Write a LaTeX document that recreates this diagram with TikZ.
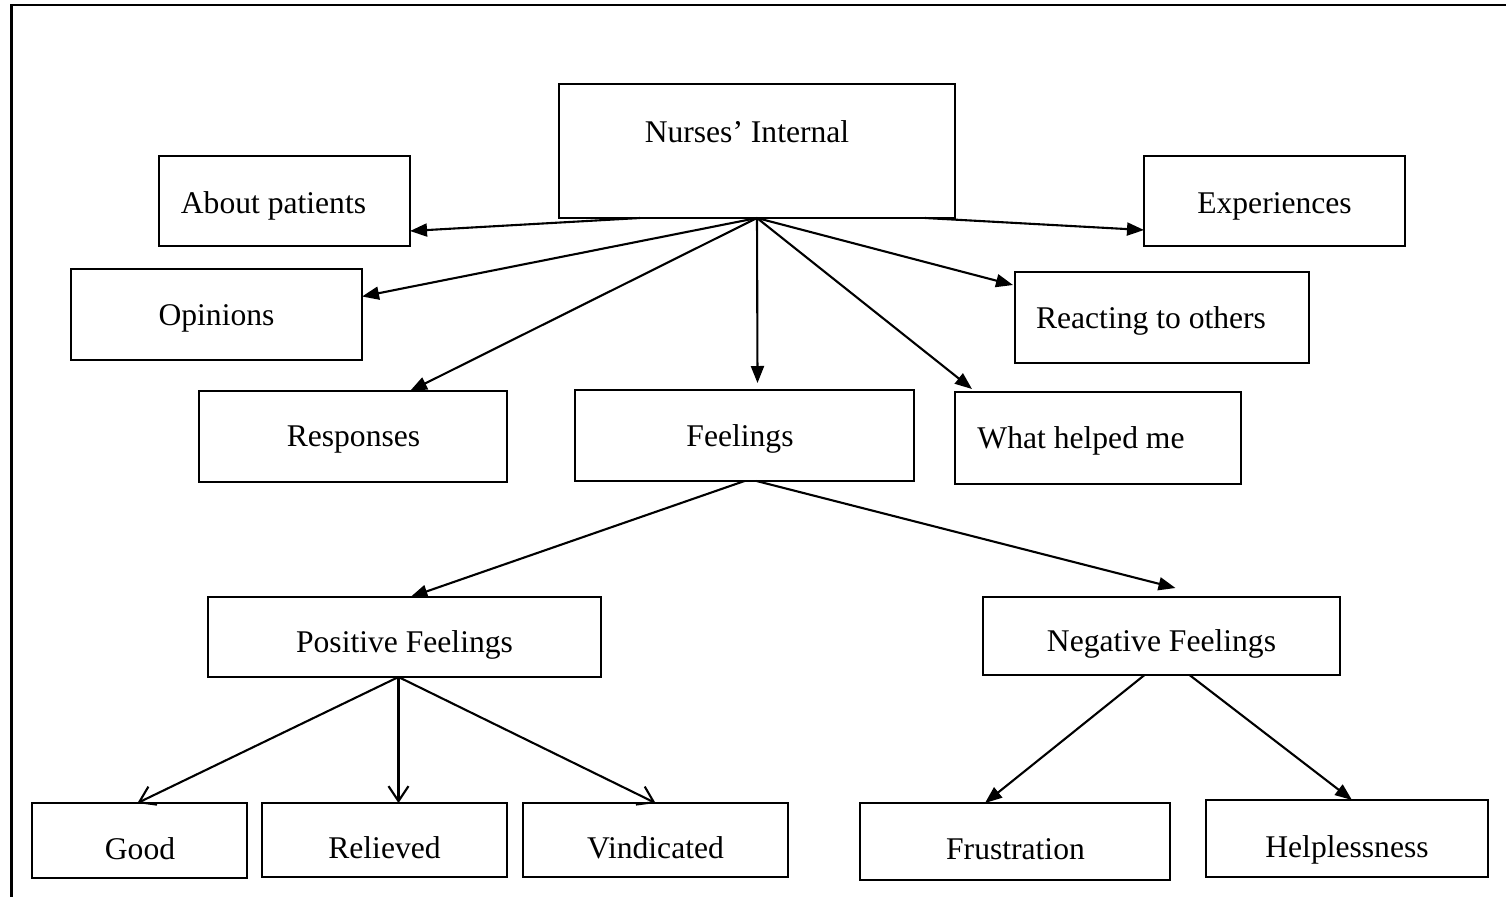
\documentclass[tikz,border=0pt]{standalone}
\usepackage{fontspec}
\setmainfont{Liberation Serif}
\usetikzlibrary{arrows.meta}
\begin{document}
\begin{tikzpicture}[x=1pt,y=-1pt,line width=2.1pt,
  box/.style={draw,line width=2.1pt,rectangle,inner sep=0pt,outer sep=0pt},
  lbl/.style={anchor=base,inner sep=0pt,font=\fontsize{31.6}{36}\selectfont},
  arr/.style={-{Triangle[length=17pt,width=13pt]}},
  openarr/.style={-{Straight Barb[length=15pt,width=20pt]}}]
\useasboundingbox (0,0) rectangle (1506,897);
% frame
\draw[line width=2.2pt] (1506,5) -- (11.5,5) -- (11.5,897);
% boxes
\node[box,minimum width=396pt,minimum height=134pt] (ni) at (757,151) {};
\node[box,minimum width=251pt,minimum height=90pt] (ap) at (284.5,201) {};
\node[box,minimum width=261pt,minimum height=90pt] (ex) at (1274.5,201) {};
\node[box,minimum width=291pt,minimum height=91pt] (op) at (216.5,314.5) {};
\node[box,minimum width=294pt,minimum height=91pt] (ro) at (1162,317.5) {};
\node[box,minimum width=308pt,minimum height=91pt] (rs) at (353,436.5) {};
\node[box,minimum width=339pt,minimum height=91pt] (fe) at (744.5,435.5) {};
\node[box,minimum width=286pt,minimum height=92pt] (wh) at (1098,438) {};
\node[box,minimum width=393pt,minimum height=80pt] (pf) at (404.5,637) {};
\node[box,minimum width=357pt,minimum height=78pt] (nf) at (1161.5,636) {};
\node[box,minimum width=215pt,minimum height=75pt] (go) at (139.5,840.5) {};
\node[box,minimum width=245pt,minimum height=74pt] (re) at (384.5,840) {};
\node[box,minimum width=265pt,minimum height=74pt] (vi) at (655.5,840) {};
\node[box,minimum width=310pt,minimum height=77pt] (fr) at (1015,841.5) {};
\node[box,minimum width=282pt,minimum height=77pt] (he) at (1347,838.5) {};
% labels
\node[lbl] (t-ni) at (747,142) {Nurses’ Internal};
\node[lbl] (t-ap) at (273.5,213) {About patients};
\node[lbl] (t-ex) at (1274.5,213) {Experiences};
\node[lbl] (t-op) at (216.5,325) {Opinions};
\node[lbl] (t-ro) at (1151,328) {Reacting to others};
\node[lbl] (t-rs) at (353.5,446) {Responses};
\node[lbl] (t-fe) at (740,446) {Feelings};
\node[lbl] (t-wh) at (1081,448) {What helped me};
\node[lbl] (t-pf) at (404.5,652) {Positive Feelings};
\node[lbl] (t-nf) at (1161.5,651) {Negative Feelings};
\node[lbl] (t-go) at (140,859) {Good};
\node[lbl] (t-re) at (384.5,858) {Relieved};
\node[lbl] (t-vi) at (655.5,858) {Vindicated};
\node[lbl] (t-fr) at (1015.5,859) {Frustration};
\node[lbl] (t-he) at (1347,857) {Helplessness};
% connectors from Nurses' Internal
\draw[arr] ([xshift=-117pt]ni.south) -- ([yshift=-30pt]ap.east);
\draw[arr] (ni.south) -- ([yshift=18pt]op.east);
\draw[arr] (ni.south) -- ([xshift=57pt]rs.north);
\draw[arr] (ni.south) -- ([xshift=13pt,yshift=7pt]fe.north);
\draw[arr] (ni.south) -- ([xshift=17pt,yshift=3pt]wh.north west);
\draw[arr] (ni.south) -- ([xshift=-2pt,yshift=-13pt]ro.north west);
\draw[arr] ([xshift=168pt]ni.south) -- ([yshift=-29pt]ex.west);
% from Feelings
\draw[arr] (fe.south) -- ([xshift=6pt]pf.north);
\draw[arr] ([xshift=12pt]fe.south) -- ([xshift=14pt,yshift=9pt]nf.north);
% from Positive Feelings
\draw[openarr] ([xshift=-6pt]pf.south) -- ([xshift=-2pt]go.north);
\draw[openarr] ([xshift=-6pt]pf.south) -- ([xshift=14pt]re.north);
\draw[openarr] ([xshift=-6pt]pf.south) -- (vi.north);
% from Negative Feelings
\draw[arr] ([xshift=-17pt]nf.south) -- ([xshift=-30pt]fr.north);
\draw[arr] ([xshift=28pt]nf.south) -- ([xshift=5pt]he.north);
\end{tikzpicture}
\end{document}
